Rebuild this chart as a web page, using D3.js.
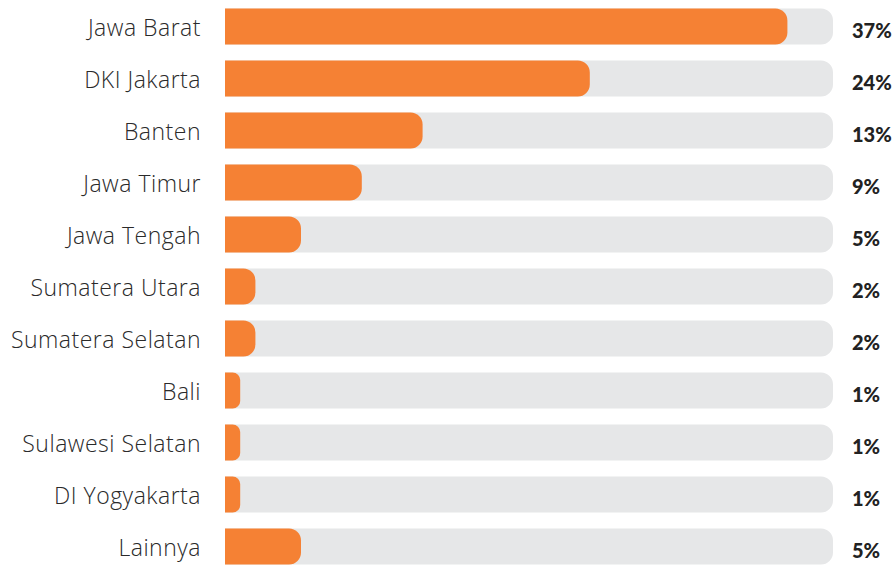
<!DOCTYPE html>
<html>
<head>
<meta charset="utf-8">
<script src="https://cdn.jsdelivr.net/npm/d3@7"></script>
<style>
  html, body { margin: 0; padding: 0; background: #ffffff; }
  svg { display: block; }
</style>
</head>
<body>
<svg id="chart" width="896" height="567"></svg>
<script>
// Share of records by province (percent)
const provinces = [
  "Jawa Barat", "DKI Jakarta", "Banten", "Jawa Timur", "Jawa Tengah",
  "Sumatera Utara", "Sumatera Selatan", "Bali", "Sulawesi Selatan",
  "DI Yogyakarta", "Lainnya"
];
const shares = [37, 24, 13, 9, 5, 2, 2, 1, 1, 1, 5];
const shareLabels = ["37%", "24%", "13%", "9%", "5%", "2%", "2%", "1%", "1%", "1%", "5%"];
const scaleMax = 40;

const rows = provinces.map((p, i) => ({ name: p, value: shares[i], label: shareLabels[i] }));

const svg = d3.select("#chart");
const plotLeft = 225, plotRight = 833;
const plotTop = 8.5, step = 52, barH = 36;

const x = d3.scaleLinear().domain([0, scaleMax]).range([plotLeft, plotRight]);
const y = d3.scaleBand()
  .domain(provinces)
  .range([plotTop, plotTop + step * provinces.length - (step - barH)])
  .paddingInner((step - barH) / step)
  .paddingOuter(0)
  .align(0);

// bar with square left edge and rounded right end
function bar(x0, x1, yTop, h, r) {
  const w = x1 - x0;
  const rr = Math.min(r, w / 2, h / 2);
  return `M${x0},${yTop}H${x1 - rr}A${rr},${rr} 0 0 1 ${x1},${yTop + rr}` +
         `V${yTop + h - rr}A${rr},${rr} 0 0 1 ${x1 - rr},${yTop + h}H${x0}Z`;
}

const g = svg.append("g");
const row = g.selectAll("g.row").data(rows).join("g").attr("class", "row");

// track
row.append("path")
  .attr("fill", "#e6e7e8")
  .attr("d", d => bar(x(0), x(scaleMax), y(d.name), y.bandwidth(), 12));

// value bar
row.append("path")
  .attr("fill", "#f58134")
  .attr("d", d => bar(x(0), x(d.value), y(d.name), y.bandwidth(), 12));

// province name
row.append("text")
  .attr("x", 201)
  .attr("y", d => y(d.name) + y.bandwidth() / 2 + 9.5)
  .attr("text-anchor", "end")
  .attr("font-family", "'Open Sans', sans-serif")
  .attr("font-weight", 300)
  .attr("font-size", 23)
  .attr("letter-spacing", 0.5)
  .attr("fill", "#2a2a2a")
  .text(d => d.name);

// percentage
row.append("text")
  .attr("x", 852)
  .attr("y", d => y(d.name) + y.bandwidth() / 2 + 11.5)
  .attr("font-family", "Lato, sans-serif")
  .attr("font-weight", 900)
  .attr("font-size", 20)
  .attr("fill", "#222222")
  .text(d => d.label);
</script>
</body>
</html>
